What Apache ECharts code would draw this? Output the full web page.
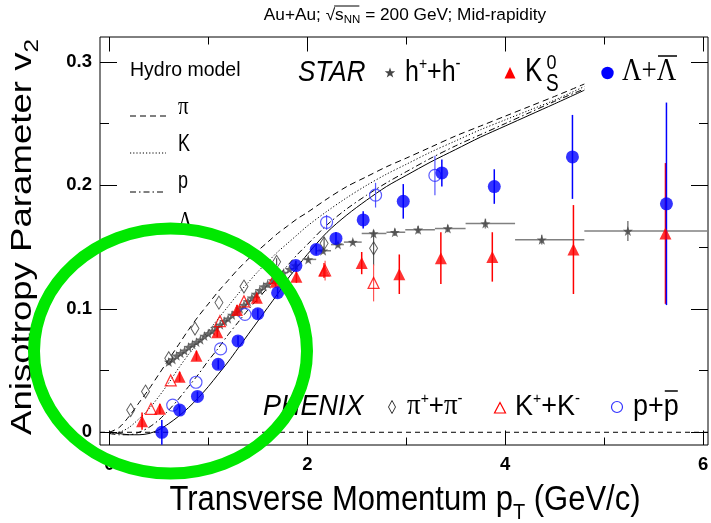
<!DOCTYPE html>
<html>
<head>
<meta charset="utf-8">
<script src="https://cdn.jsdelivr.net/npm/echarts@6.0.0/dist/echarts.min.js"></script>
<style>
html,body{margin:0;padding:0;background:#ffffff;}
#chart{width:711px;height:523px;}
</style>
</head>
<body>
<div id="chart"></div>
<script>
// ---------------- Data ----------------
// Hydrodynamic model curves (pT in GeV/c, v2)
const hydroX      = [0.0, 0.1, 0.2, 0.3, 0.4, 0.5, 0.6, 0.7, 0.8, 0.9, 1.0, 1.1, 1.2, 1.3, 1.4, 1.5, 1.6, 1.7, 1.8, 1.9, 2.0, 2.2, 2.4, 2.6, 2.8, 3.0, 3.25, 3.5, 3.75, 4.0, 4.25, 4.5, 4.8];
const hydroPi     = [0.000, 0.004, 0.013, 0.024, 0.035, 0.047, 0.059, 0.071, 0.083, 0.094, 0.104, 0.114, 0.123, 0.132, 0.140, 0.147, 0.154, 0.161, 0.167, 0.173, 0.178, 0.189, 0.199, 0.207, 0.215, 0.222, 0.231, 0.240, 0.248, 0.256, 0.264, 0.272, 0.282];
const hydroK      = [-0.001, 0.000, 0.004, 0.011, 0.019, 0.029, 0.040, 0.052, 0.063, 0.073, 0.082, 0.092, 0.102, 0.112, 0.121, 0.130, 0.138, 0.146, 0.153, 0.160, 0.167, 0.179, 0.190, 0.200, 0.209, 0.217, 0.227, 0.236, 0.245, 0.253, 0.261, 0.269, 0.280];
const hydroP      = [-0.001, -0.002, -0.002, 0.000, 0.004, 0.010, 0.018, 0.027, 0.037, 0.047, 0.058, 0.068, 0.079, 0.089, 0.099, 0.108, 0.117, 0.126, 0.135, 0.144, 0.152, 0.168, 0.181, 0.192, 0.202, 0.211, 0.222, 0.232, 0.241, 0.250, 0.259, 0.268, 0.278];
const hydroLambda = [0.000, -0.001, -0.002, -0.002, -0.001, 0.002, 0.007, 0.013, 0.020, 0.028, 0.037, 0.047, 0.057, 0.068, 0.079, 0.090, 0.101, 0.112, 0.124, 0.134, 0.144, 0.162, 0.176, 0.188, 0.199, 0.208, 0.219, 0.229, 0.239, 0.248, 0.257, 0.266, 0.277];

// STAR Lambda + anti-Lambda
const starLamX   = [0.53, 0.71, 0.89, 1.10, 1.30, 1.50, 1.70, 1.885, 2.09, 2.29, 2.565, 2.97, 3.36, 3.89, 4.68, 5.63];
const starLamY   = [0.000, 0.018, 0.029, 0.055, 0.074, 0.096, 0.113, 0.135, 0.148, 0.157, 0.172, 0.187, 0.210, 0.199, 0.223, 0.185];
const starLamErr = [0.010, 0.004, 0.004, 0.004, 0.004, 0.004, 0.004, 0.004, 0.004, 0.005, 0.007, 0.014, 0.011, 0.014, 0.034, 0.082];

// STAR K0s
const starK0X   = [0.33, 0.51, 0.71, 0.88, 1.09, 1.29, 1.49, 1.68, 1.89, 2.17, 2.55, 2.93, 3.35, 3.87, 4.69, 5.62];
const starK0Y   = [0.009, 0.019, 0.045, 0.062, 0.081, 0.099, 0.109, 0.122, 0.126, 0.131, 0.137, 0.128, 0.141, 0.142, 0.148, 0.161];
const starK0Err = [0.007, 0.004, 0.004, 0.004, 0.004, 0.004, 0.004, 0.004, 0.005, 0.006, 0.009, 0.016, 0.021, 0.020, 0.036, 0.057];

// STAR charged hadrons: fine-binned low pT band
const starHBandX = [0.60, 0.64, 0.68, 0.72, 0.76, 0.80, 0.84, 0.88, 0.92, 0.96, 1.00, 1.04, 1.08, 1.12, 1.16, 1.20, 1.24, 1.28, 1.32, 1.36, 1.40, 1.44, 1.48, 1.52, 1.56, 1.60, 1.65, 1.70, 1.76, 1.82, 1.88];
const starHBandY = [0.057, 0.059, 0.062, 0.064, 0.066, 0.069, 0.071, 0.073, 0.075, 0.078, 0.080, 0.082, 0.085, 0.087, 0.090, 0.092, 0.095, 0.097, 0.100, 0.103, 0.106, 0.109, 0.112, 0.115, 0.118, 0.120, 0.123, 0.126, 0.129, 0.132, 0.135];
// STAR charged hadrons: wide bins at higher pT
const starHBinX   = [2.01, 2.16, 2.31, 2.46, 2.67, 2.885, 3.12, 3.42, 3.80, 4.37, 5.24];
const starHBinY   = [0.140, 0.147, 0.152, 0.154, 0.161, 0.162, 0.164, 0.165, 0.169, 0.156, 0.163];
const starHBinLo  = [1.95, 2.09, 2.24, 2.37, 2.55, 2.80, 2.99, 3.29, 3.60, 4.10, 4.80];
const starHBinHi  = [2.09, 2.24, 2.37, 2.55, 2.80, 2.99, 3.29, 3.60, 4.10, 4.80, 6.05];
const starHBinErr = [0.002, 0.002, 0.002, 0.002, 0.003, 0.003, 0.003, 0.003, 0.004, 0.004, 0.008];

// PHENIX pi+ + pi-
const phxPiX   = [0.215, 0.365, 0.60, 0.865, 1.107, 1.36, 1.69, 2.17, 2.67];
const phxPiY   = [0.018, 0.033, 0.060, 0.084, 0.105, 0.118, 0.138, 0.153, 0.149];
const phxPiErr = [0, 0, 0, 0, 0, 0, 0.003, 0.005, 0.014];
// PHENIX K+ + K-
const phxKX   = [0.42, 0.62, 1.117, 1.36, 1.67, 2.18, 2.67];
const phxKY   = [0.019, 0.042, 0.090, 0.106, 0.125, 0.131, 0.121];
const phxKErr = [0, 0, 0, 0, 0.004, 0.008, 0.015];
// PHENIX p + pbar
const phxPX   = [0.64, 0.875, 1.124, 1.37, 2.195, 2.69, 3.29];
const phxPY   = [0.022, 0.0405, 0.0675, 0.0955, 0.170, 0.192, 0.208];
const phxPErr = [0, 0, 0, 0, 0.006, 0.010, 0.016];

// Axis ticks
const xMajorTicks = [0, 2, 4, 6];
const xMinorTicks = [1, 3, 5];
const xTickLabels = ['0', '2', '4', '6'];
const yMajorTicks = [0, 0.1, 0.2, 0.3];
const yMinorTicks = [0.05, 0.15, 0.25];
const yTickLabels = ['0', '0.1', '0.2', '0.3'];
const zeroLineX = [-0.095, 6.05];
const zeroLineY = [0, 0];

// ---------------- Setup ----------------
const X_MIN = -0.095, X_MAX = 6.05, Y_MIN = -0.0103, Y_MAX = 0.3201;
const SANS = "'Liberation Sans', Arial, Helvetica, sans-serif";
const SERIF = "'Liberation Serif', 'Times New Roman', serif";
const BLUE = '#0000ff', RED = '#ff0000', GREY = '#454545';
const STAR_PATH = 'path://M0,-10L2.35,-3.24L9.51,-3.09L3.8,1.24L5.88,8.09L0,4L-5.88,8.09L-3.8,1.24L-9.51,-3.09L-2.35,-3.24Z';

const pairs = (xs, ys) => xs.map((x, i) => [x, ys[i]]);

function mkAxis(dim, pos, ticks, len, labels) {
  const ax = {
    type: 'value', position: pos,
    min: dim === 'x' ? X_MIN : Y_MIN, max: dim === 'x' ? X_MAX : Y_MAX,
    axisLine: { show: false, onZero: false },
    splitLine: { show: false },
    axisTick: { show: true, inside: true, length: len, customValues: ticks, lineStyle: { color: '#000', width: 1 } },
    axisLabel: { show: false }
  };
  if (labels) {
    ax.axisLabel = {
      show: true, customValues: ticks, color: '#000', fontFamily: SANS, fontWeight: 'bold',
      fontSize: 18.5, margin: dim === 'x' ? 10 : 8,
      formatter: function (v) {
        const i = ticks.findIndex(t => Math.abs(t - v) < 1e-9);
        return i >= 0 ? labels[i] : '';
      }
    };
  }
  return ax;
}

function errorBars(name, xs, ys, ey, xlo, xhi, color, width) {
  const data = xs.map((x, i) => [x, ys[i], ey ? ey[i] : 0, xlo ? xlo[i] : x, xhi ? xhi[i] : x]);
  return {
    type: 'custom', name: name, xAxisIndex: 0, yAxisIndex: 0, silent: true, z: 3, clip: true,
    encode: { x: 0, y: 1 }, data: data,
    renderItem: function (params, api) {
      const x = api.value(0), y = api.value(1), e = api.value(2), lo = api.value(3), hi = api.value(4);
      const kids = [];
      if (e > 0) {
        const a = api.coord([x, y - e]), b = api.coord([x, y + e]);
        kids.push({ type: 'line', shape: { x1: a[0], y1: a[1], x2: b[0], y2: b[1] }, style: { stroke: color, lineWidth: width } });
      }
      if (hi > lo) {
        const a = api.coord([lo, y]), b = api.coord([hi, y]);
        kids.push({ type: 'line', shape: { x1: a[0], y1: a[1], x2: b[0], y2: b[1] }, style: { stroke: color, lineWidth: width } });
      }
      return { type: 'group', children: kids };
    }
  };
}

function curve(name, ys, dash) {
  return {
    type: 'line', name: name, xAxisIndex: 0, yAxisIndex: 0, data: pairs(hydroX, ys),
    showSymbol: false, smooth: 0.3, silent: true, z: 2,
    lineStyle: { color: '#000', width: 1, type: dash }
  };
}

function scatter(name, xs, ys, symbol, size, style, z) {
  return {
    type: 'scatter', name: name, xAxisIndex: 0, yAxisIndex: 0, data: pairs(xs, ys),
    symbol: symbol, symbolSize: size, itemStyle: style, silent: true, z: z || 5
  };
}

// ---- text helpers (measure so that super/subscripts sit right) ----
const mctx = document.createElement('canvas').getContext('2d');
function fontStr(p) { return (p.italic ? 'italic ' : '') + (p.bold ? 'bold ' : '') + p.size + 'px ' + (p.family || SANS); }
function run(x0, base, parts, sy, align, sx) {
  sx = sx || 1;
  let total = 0;
  const ws = parts.map(p => { mctx.font = fontStr(p); const w = mctx.measureText(p.t).width * sx; total += w; return w; });
  let cx = align === 'center' ? x0 - total / 2 : x0;
  const els = [], xs = [];
  parts.forEach((p, i) => {
    xs.push(cx);
    els.push({
      type: 'text', x: cx, y: base + (p.dy || 0) * sy - 0.35 * p.size * sy, scaleY: sy, scaleX: sx, z: 60,
      style: { text: p.t, fontSize: p.size, fontFamily: p.family || SANS, fontStyle: p.italic ? 'italic' : 'normal',
               fontWeight: p.bold ? 'bold' : 'normal', fill: p.color || '#000', align: 'left', verticalAlign: 'middle' }
    });
    cx += ws[i];
  });
  return { els: els, xs: xs, ws: ws };
}
function hline(x1, x2, y, dash, width, color) {
  return { type: 'line', z: 60, shape: { x1: x1, y1: y, x2: x2, y2: y }, style: { stroke: color || '#000', lineWidth: width || 1, lineDash: dash || null } };
}

const graphics = [];
// Title
const title = run(405, 21, [
  { t: 'Au+Au; ', size: 15 }, { t: '\u221A', size: 15 }, { t: 's', size: 15 },
  { t: 'NN', size: 10, dy: 3 }, { t: ' = 200 GeV; Mid-rapidity', size: 15 }
], 1.1, 'center', 1.15);
graphics.push(...title.els);
graphics.push(hline(title.xs[2] - 1, title.xs[4] - 1, 6, null, 1));

// X axis title
const xt = run(405, 513, [
  { t: 'Transverse Momentum p', size: 31 }, { t: 'T', size: 20, dy: 7 }, { t: ' (GeV/c)', size: 31 }
], 1.12, 'center');
graphics.push(...xt.els);

// Y axis title (rotated group)
const yt = run(0, 0.35 * 30, [
  { t: 'Anisotropy Parameter v', size: 30 }, { t: '2', size: 20, dy: 6 }
], 1, 'center');
graphics.push({ type: 'group', x: 23, y: 237, rotation: Math.PI / 2, scaleX: 1.22, children: yt.els });

// Hydro legend
graphics.push(...run(130, 77.7, [{ t: 'Hydro model', size: 19.5 }], 1).els);
graphics.push(hline(130, 166, 116, [6, 4], 1));
graphics.push(hline(130, 166, 153, [1.2, 2], 1));
graphics.push(hline(130, 166, 192, [6, 3, 1.5, 3], 1));
graphics.push(hline(130, 166, 230, null, 1));
graphics.push(...run(178, 116, [{ t: '\u03C0', size: 21, family: SERIF }], 1.2).els);
graphics.push(...run(178, 153, [{ t: 'K', size: 18 }], 1.3).els);
graphics.push(...run(178, 190, [{ t: 'p', size: 18 }], 1.3).els);
graphics.push(...run(178, 231, [{ t: '\u039B', size: 20, family: SERIF }], 1.25).els);

// STAR legend
graphics.push(...run(298, 83.3, [{ t: 'STAR', size: 26, italic: true }], 1.16).els);
const starPts = [[0,-10],[2.35,-3.24],[9.51,-3.09],[3.8,1.24],[5.88,8.09],[0,4],[-5.88,8.09],[-3.8,1.24],[-9.51,-3.09],[-2.35,-3.24]];
graphics.push({ type: 'polygon', z: 60, shape: { points: starPts.map(p => [390 + p[0] * 0.55, 73 + p[1] * 0.55]) }, style: { fill: GREY } });
graphics.push(...run(405, 83.3, [
  { t: 'h', size: 25 }, { t: '+', size: 14, dy: -11 }, { t: '+h', size: 25 }, { t: '-', size: 15, dy: -11 }
], 1.18).els);
graphics.push({ type: 'polygon', z: 60, shape: { points: [[504.5, 78.5], [515.5, 78.5], [510, 67]] }, style: { fill: RED } });
graphics.push(...run(525, 83.3, [{ t: 'K', size: 26 }], 1.25).els);
graphics.push(...run(546.5, 71, [{ t: '0', size: 18 }], 1.15).els);
graphics.push(...run(546, 93, [{ t: 'S', size: 19 }], 1.25).els);
graphics.push({ type: 'circle', z: 60, shape: { cx: 607.5, cy: 73, r: 6.2 }, style: { fill: BLUE } });
const lam = run(622, 83.3, [{ t: '\u039B+\u039B', size: 27, family: SERIF }], 1.2);
graphics.push(...lam.els);
graphics.push(hline(658, 677, 56, null, 1.5));

// PHENIX legend
graphics.push(...run(263, 417, [{ t: 'PHENIX', size: 27, italic: true }], 1.08).els);
graphics.push({ type: 'polygon', z: 60, shape: { points: [[392, 400.5], [395.5, 407], [392, 413.5], [388.5, 407]] }, style: { fill: 'none', stroke: '#333', lineWidth: 1 } });
graphics.push(...run(407, 417, [
  { t: '\u03C0', size: 27, family: SERIF }, { t: '+', size: 14, dy: -12 }, { t: '+', size: 26 },
  { t: '\u03C0', size: 27, family: SERIF }, { t: '-', size: 15, dy: -12 }
], 1.1).els);
graphics.push({ type: 'polygon', z: 60, shape: { points: [[494.5, 413], [505.5, 413], [500, 402.5]] }, style: { fill: 'none', stroke: RED, lineWidth: 1.2 } });
graphics.push(...run(515, 417, [
  { t: 'K', size: 27 }, { t: '+', size: 14, dy: -12 }, { t: '+K', size: 27 }, { t: '-', size: 15, dy: -12 }
], 1.1).els);
graphics.push({ type: 'circle', z: 60, shape: { cx: 617, cy: 407, r: 5.5 }, style: { fill: 'none', stroke: '#3333ff', lineWidth: 1.2 } });
const pp = run(633, 417, [{ t: 'p+', size: 27 }, { t: 'p', size: 27 }], 1.1);
graphics.push(...pp.els);
graphics.push(hline(pp.xs[1] + 1, pp.xs[1] + pp.ws[1] - 1, 391, null, 1.5));

// Green highlight ellipse
graphics.push({ type: 'ellipse', z: 100, shape: { cx: 170.5, cy: 351, rx: 136.5, ry: 122.5 }, style: { fill: 'none', stroke: '#00e800', lineWidth: 12 } });

const option = {
  animation: false,
  backgroundColor: '#ffffff',
  grid: { left: 100, top: 37, width: 608, height: 408, show: true, borderColor: '#000', borderWidth: 1, backgroundColor: 'transparent', containLabel: false, outerBoundsMode: 'none' },
  xAxis: [
    mkAxis('x', 'bottom', xMajorTicks, 14.5, xTickLabels),
    mkAxis('x', 'bottom', xMinorTicks, 7.5, null),
    mkAxis('x', 'top', xMajorTicks, 14.5, null),
    mkAxis('x', 'top', xMinorTicks, 7.5, null)
  ],
  yAxis: [
    mkAxis('y', 'left', yMajorTicks, 17, yTickLabels),
    mkAxis('y', 'left', yMinorTicks, 9, null),
    mkAxis('y', 'right', yMajorTicks, 17, null),
    mkAxis('y', 'right', yMinorTicks, 9, null)
  ],
  series: [
    { type: 'line', name: 'zero', data: pairs(zeroLineX, zeroLineY), showSymbol: false, silent: true, z: 1,
      lineStyle: { color: '#000', width: 1, type: [5, 4] } },
    curve('Hydro pi', hydroPi, [6, 4]),
    curve('Hydro K', hydroK, [1.2, 2]),
    curve('Hydro p', hydroP, [6, 3, 1.5, 3]),
    curve('Hydro Lambda', hydroLambda, 'solid'),
    errorBars('h bins', starHBinX, starHBinY, starHBinErr, starHBinLo, starHBinHi, '#808080', 1.5),
    errorBars('K0s err', starK0X, starK0Y, starK0Err, null, null, RED, 1.5),
    errorBars('Lambda err', starLamX, starLamY, starLamErr, null, null, BLUE, 1.5),
    errorBars('PHENIX pi err', phxPiX, phxPiY, phxPiErr, null, null, '#555', 1.2),
    errorBars('PHENIX K err', phxKX, phxKY, phxKErr, null, null, '#ff5555', 1.2),
    errorBars('PHENIX p err', phxPX, phxPY, phxPErr, null, null, '#5555ff', 1.2),
    scatter('PHENIX pi', phxPiX, phxPiY, 'diamond', [8, 13], { color: 'rgba(255,255,255,0)', borderColor: '#333', borderWidth: 1 }, 6),
    scatter('STAR h band', starHBandX, starHBandY, STAR_PATH, 10, { color: GREY }, 5),
    scatter('STAR h', starHBinX, starHBinY, STAR_PATH, 10, { color: GREY }, 5),
    scatter('PHENIX K', phxKX, phxKY, 'triangle', 11, { color: 'rgba(255,255,255,0)', borderColor: RED, borderWidth: 1.2 }, 6),
    scatter('PHENIX p', phxPX, phxPY, 'circle', 12, { color: 'rgba(255,255,255,0)', borderColor: '#3333ff', borderWidth: 1.2 }, 6),
    scatter('STAR K0s', starK0X, starK0Y, 'triangle', 12, { color: RED }, 7),
    scatter('STAR Lambda', starLamX, starLamY, 'circle', 13, { color: BLUE }, 8)
  ],
  graphic: { elements: graphics }
};

const chart = echarts.init(document.getElementById('chart'), null, { renderer: 'canvas', width: 711, height: 523 });
chart.setOption(option);
</script>
</body>
</html>
